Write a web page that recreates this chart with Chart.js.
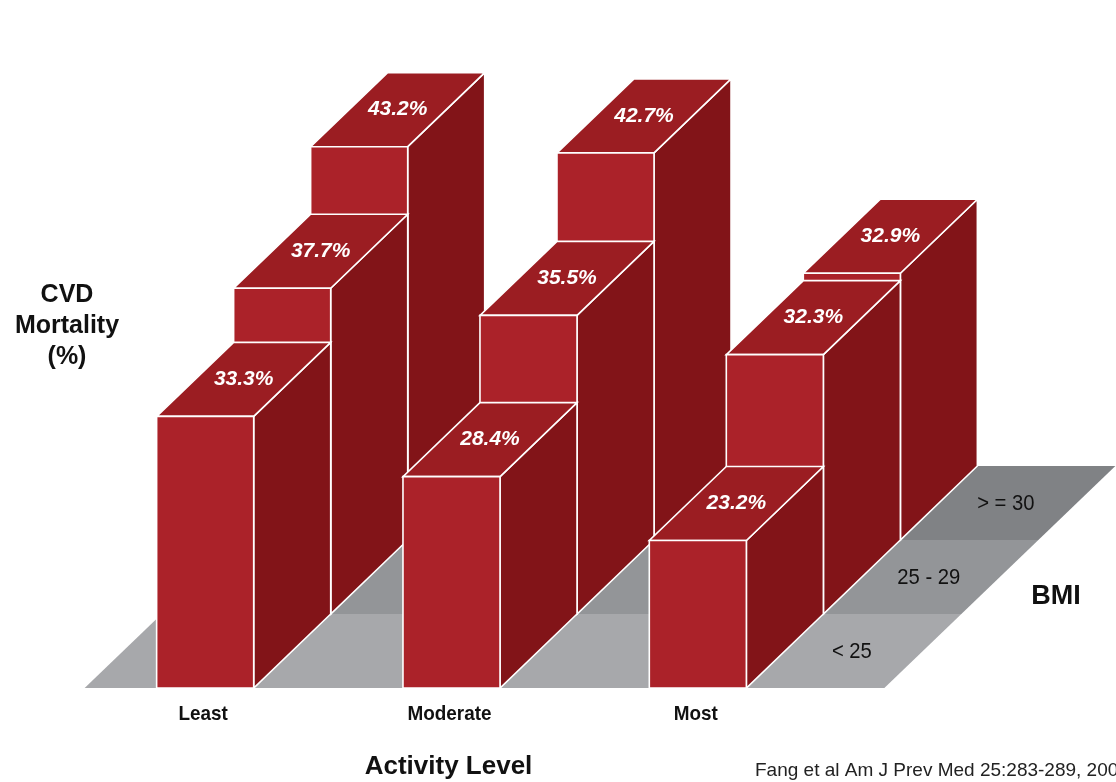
<!DOCTYPE html>
<html>
<head>
<meta charset="utf-8">
<script src="https://cdn.jsdelivr.net/npm/chart.js@4/dist/chart.umd.min.js"></script>
<style>
  html, body { margin: 0; padding: 0; background: #ffffff; overflow: hidden; }
  canvas { display: block; }
</style>
</head>
<body>
<canvas id="chart" width="1116" height="782"></canvas>
<script>
// ---- data ----
const categories = ['Least', 'Moderate', 'Most'];
const bmiGroups = ['< 25', '25 - 29', '> = 30'];
const bmiUnder25 = [33.3, 28.4, 23.2];
const bmi25to29 = [37.7, 35.5, 32.3];
const bmi30plus = [43.2, 42.7, 32.9];
const yAxisTitle = ['CVD', 'Mortality', '(%)'];
const xAxisTitle = 'Activity Level';
const depthAxisTitle = 'BMI';
const sourceNote = 'Fang et al Am J Prev Med 25:283-289, 2003';

// ---- style ----
const DEPTH_X = 77;          // horizontal shift per BMI row
const DEPTH_Y = 74;          // vertical shift per BMI row
const FLOOR_PAD_LEFT = 72;
const FLOOR_PAD_RIGHT = 138;
const FLOOR_COLORS = ['#a7a8ab', '#939598', '#808285'];
const FACE_FRONT = '#ab2229';
const FACE_TOP = '#9b1d22';
const FACE_SIDE = '#821418';
const EDGE = '#ffffff';
const SANS = '"Liberation Sans", Arial, Helvetica, sans-serif';

function condensedText(ctx, text, cx, cy, squeeze) {
  ctx.save();
  ctx.translate(cx, cy);
  ctx.scale(squeeze, 1);
  ctx.fillText(text, 0, 0);
  ctx.restore();
}

const bar3d = {
  id: 'bar3d',
  afterDatasetsDraw(chart) {
    const { ctx, scales: { y } } = chart;
    const base = y.getPixelForValue(y.min);
    const n = chart.data.datasets.length;
    const m0 = chart.getDatasetMeta(0).data;
    const fl = m0[0].x - m0[0].width / 2 - FLOOR_PAD_LEFT;
    const last = m0[m0.length - 1];
    const fr = last.x + last.width / 2 + FLOOR_PAD_RIGHT;
    ctx.save();
    // floor strips
    for (let r = 0; r < n; r++) {
      const y0 = base - r * DEPTH_Y, y1 = base - (r + 1) * DEPTH_Y;
      ctx.beginPath();
      ctx.moveTo(fl + r * DEPTH_X, y0);
      ctx.lineTo(fr + r * DEPTH_X, y0);
      ctx.lineTo(fr + (r + 1) * DEPTH_X, y1);
      ctx.lineTo(fl + (r + 1) * DEPTH_X, y1);
      ctx.closePath();
      ctx.fillStyle = FLOOR_COLORS[r];
      ctx.fill();
    }
    ctx.lineWidth = 1.6;
    ctx.lineJoin = 'miter';
    ctx.strokeStyle = EDGE;
    // bars, back row first
    for (let r = n - 1; r >= 0; r--) {
      const meta = chart.getDatasetMeta(r);
      const vals = chart.data.datasets[r].data;
      meta.data.forEach((el, i) => {
        const left = el.x - el.width / 2 + r * DEPTH_X;
        const right = left + el.width;
        const bottom = base - r * DEPTH_Y;
        const top = el.y - r * DEPTH_Y;
        // side
        ctx.beginPath();
        ctx.moveTo(right, top);
        ctx.lineTo(right + DEPTH_X, top - DEPTH_Y);
        ctx.lineTo(right + DEPTH_X, bottom - DEPTH_Y);
        ctx.lineTo(right, bottom);
        ctx.closePath();
        ctx.fillStyle = FACE_SIDE; ctx.fill(); ctx.stroke();
        // top
        ctx.beginPath();
        ctx.moveTo(left, top);
        ctx.lineTo(right, top);
        ctx.lineTo(right + DEPTH_X, top - DEPTH_Y);
        ctx.lineTo(left + DEPTH_X, top - DEPTH_Y);
        ctx.closePath();
        ctx.fillStyle = FACE_TOP; ctx.fill(); ctx.stroke();
        // front
        ctx.beginPath();
        ctx.rect(left, top, right - left, bottom - top);
        ctx.fillStyle = FACE_FRONT; ctx.fill(); ctx.stroke();
        // value label
        ctx.fillStyle = '#ffffff';
        ctx.font = 'italic bold 21px ' + SANS;
        ctx.textAlign = 'center';
        ctx.textBaseline = 'middle';
        ctx.fillText(vals[i].toFixed(1) + '%', (left + right) / 2 + DEPTH_X / 2, top - DEPTH_Y / 2);
      });
    }
    ctx.restore();
  },
  afterDraw(chart) {
    const { ctx, chartArea, scales: { x, y } } = chart;
    const base = y.getPixelForValue(y.min);
    const m0 = chart.getDatasetMeta(0).data;
    const last = m0[m0.length - 1];
    const fr = last.x + last.width / 2 + FLOOR_PAD_RIGHT;
    ctx.save();
    ctx.fillStyle = '#111111';
    ctx.textAlign = 'center';
    ctx.textBaseline = 'middle';
    // category labels
    ctx.font = 'bold 21px ' + SANS;
    categories.forEach((c, i) => condensedText(ctx, c, x.getPixelForValue(i) - 2, base + 26, 0.9));
    // BMI group labels on floor strips
    ctx.font = 'normal 22px ' + SANS;
    bmiGroups.forEach((g, r) => {
      const cy = base - (r + 0.5) * DEPTH_Y;
      const cx = fr + (r + 0.5) * DEPTH_X - 71;
      condensedText(ctx, g, cx, cy + 1, 0.92);
    });
    // axis titles
    ctx.font = 'bold 26px ' + SANS;
    ctx.fillText(xAxisTitle, (chartArea.left + chartArea.right) / 2 - 3, 767);
    ctx.font = 'bold 25px ' + SANS;
    yAxisTitle.forEach((t, k) => ctx.fillText(t, 67, 295 + k * 31));
    ctx.font = 'bold 27px ' + SANS;
    ctx.fillText(depthAxisTitle, 1056, 597);
    // source
    ctx.font = 'normal 19px ' + SANS;
    ctx.textAlign = 'left';
    ctx.fillStyle = '#222222';
    ctx.fillText(sourceNote, 755, 771);
    ctx.restore();
  }
};

const datasets = [bmiUnder25, bmi25to29, bmi30plus].map((vals, r) => ({
  label: bmiGroups[r],
  data: vals,
  backgroundColor: 'rgba(0,0,0,0)',
  borderWidth: 0,
  grouped: false,
  categoryPercentage: 1,
  barPercentage: 0.394
}));

new Chart(document.getElementById('chart'), {
  type: 'bar',
  data: { labels: categories, datasets },
  options: {
    responsive: false,
    animation: false,
    devicePixelRatio: 1,
    layout: { padding: { left: 82, right: 295, top: 12, bottom: 94 } },
    plugins: { legend: { display: false }, tooltip: { enabled: false } },
    scales: {
      x: { type: 'category', display: false, offset: true },
      y: { type: 'linear', display: false, min: 11.2, max: 66.2 }
    }
  },
  plugins: [bar3d]
});
</script>
</body>
</html>
